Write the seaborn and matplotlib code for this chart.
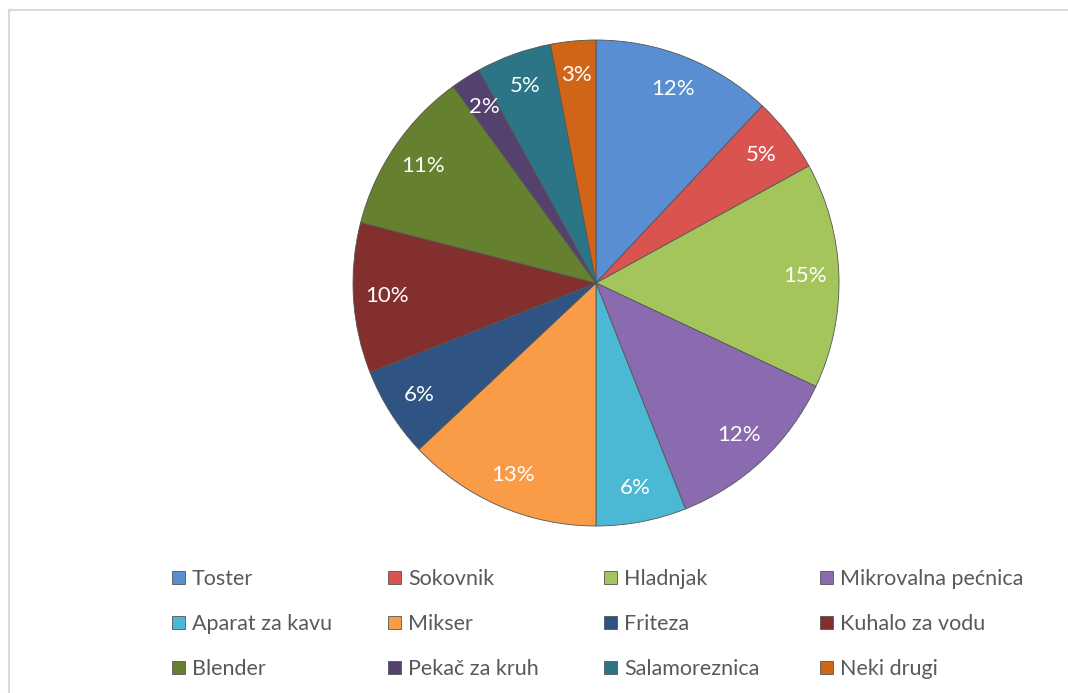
import seaborn as sns
import matplotlib.pyplot as plt
from matplotlib.patches import Rectangle

sns.set_theme(style="white")
plt.rcParams['font.family'] = ['Lato', 'DejaVu Sans']

# podaci
uredaji = ['Toster', 'Sokovnik', 'Hladnjak', 'Mikrovalna pećnica',
           'Aparat za kavu', 'Mikser', 'Friteza', 'Kuhalo za vodu',
           'Blender', 'Pekač za kruh', 'Salamoreznica', 'Neki drugi']
postotci = [12, 5, 15, 12, 6, 13, 6, 10, 11, 2, 5, 3]
boje = ['#5A8ED3', '#D9534F', '#A3C55C', '#8B6BB0', '#4BB9D4', '#F99B47',
        '#2F5483', '#832F2D', '#65802F', '#55416D', '#2B7586', '#D06518']

W, H = 1068, 693
fig = plt.figure(figsize=(W / 100, H / 100), dpi=100)

# okvir
fig.patches.append(Rectangle((9 / W, -0.1), 1.2, (H - 10) / H + 0.1,
                             transform=fig.transFigure, fill=False,
                             edgecolor='#D9D9D9', linewidth=1.5))

cx, cy, r = 596, H - 283, 243
ax = fig.add_axes([(cx - r) / W, (cy - r) / H, 2 * r / W, 2 * r / H])
wedges, texts, pcts = ax.pie(postotci, colors=boje, startangle=90, counterclock=False,
                             autopct='%d%%', pctdistance=0.86, radius=1,
                             wedgeprops=dict(edgecolor='#555555', linewidth=0.6),
                             textprops=dict(color='white', fontsize=16))
ax.set_xlim(-1, 1)
ax.set_ylim(-1, 1)
ax.set_aspect('equal')
ax.axis('off')

# legenda u 4 stupca
stupci_x = [172, 388, 604, 820]
for i, x in enumerate(stupci_x):
    idx = [i, i + 4, i + 8]
    leg = fig.legend([wedges[j] for j in idx], [uredaji[j] for j in idx],
                     loc='upper left', bbox_to_anchor=(x / W, (H - 569) / H),
                     frameon=False, fontsize=15.5, handlelength=0.6,
                     handleheight=0.6, handletextpad=0.33, labelspacing=1.16,
                     borderpad=0, borderaxespad=0)
    for t in leg.get_texts():
        t.set_color('#595959')

fig.savefig('out.png', dpi=100)
